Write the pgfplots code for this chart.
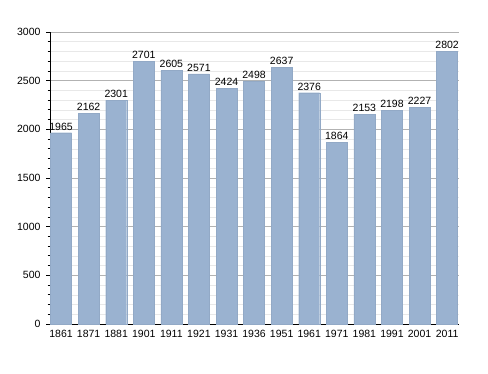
\documentclass[border=0pt]{standalone}
\usepackage{pgfplots}
\pgfplotsset{compat=1.18}
\usepackage{fontspec}
\setmainfont{Liberation Sans}
\definecolor{barc}{RGB}{154,178,208}
\begin{document}
\begin{tikzpicture}
\path[use as bounding box] (0pt,0pt) rectangle (488pt,373pt);
\begin{axis}[
  at={(50pt,49pt)}, anchor=south west,
  width=409pt, height=292pt, scale only axis,
  xmin=-0.4, xmax=14.43, ymin=0, ymax=3000,
  xtick={0,...,14},
  xticklabels={1861,1871,1881,1901,1911,1921,1931,1936,1951,1961,1971,1981,1991,2001,2011},
  ytick={0,500,...,3000},
  minor y tick num=4,
  axis x line*=bottom, axis y line*=left,
  x axis line style={-, black, line width=0.8pt},
  y axis line style={-, black, line width=0.8pt},
  ymajorgrids, yminorgrids,
  major grid style={gray!60, line width=0.6pt},
  minor grid style={gray!18, line width=0.5pt},
  tick align=outside,
  major tick length=4pt, minor tick length=2.5pt,
  xtick style={draw=none},
  ytick style={black, line width=0.8pt},
  tick label style={font=\fontsize{10.5}{12}\selectfont},
  /pgf/number format/assume math mode=true,
  /pgf/number format/1000 sep={},
  yticklabel style={xshift=-2pt},
  xticklabel style={yshift=1pt},
  nodes near coords,
  nodes near coords style={font=\fontsize{10.5}{12}\selectfont, /pgf/number format/1000 sep={}, yshift=-1pt},
]
\addplot[ybar, bar width=21pt, fill=barc, draw=barc!95!black, line width=0.3pt] coordinates {
(0,1965)(1,2162)(2,2301)(3,2701)(4,2605)(5,2571)(6,2424)(7,2498)(8,2637)(9,2376)(10,1864)(11,2153)(12,2198)(13,2227)(14,2802)
};
\end{axis}
\end{tikzpicture}
\end{document}
